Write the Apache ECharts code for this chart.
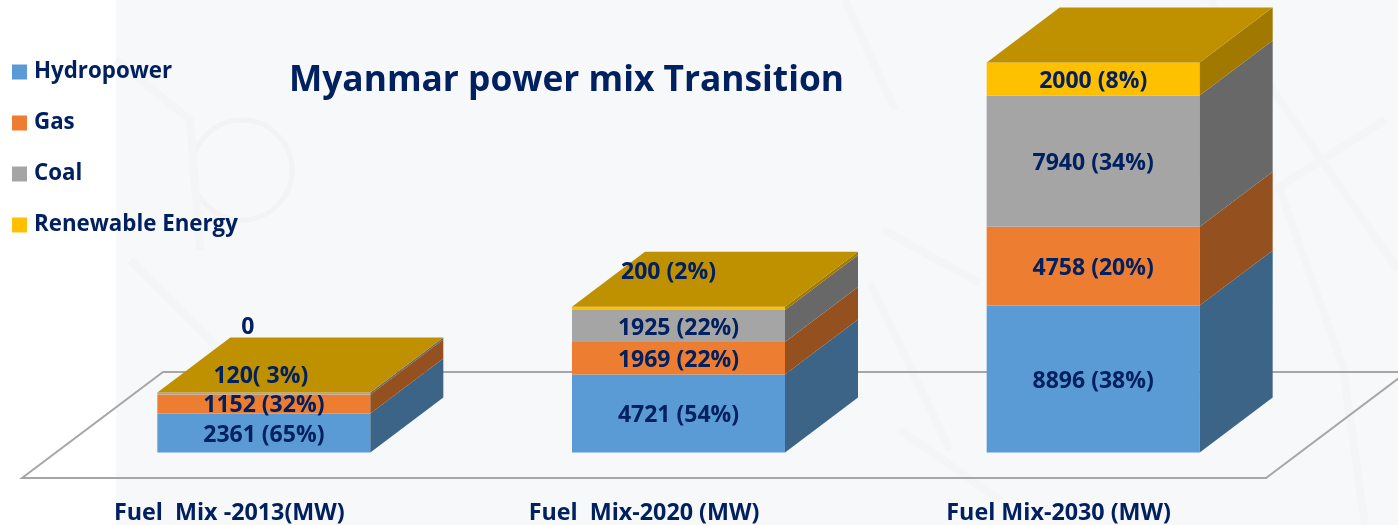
<!DOCTYPE html>
<html><head><meta charset="utf-8">
<style>html,body{margin:0;padding:0;background:#fff}#c{width:1398px;height:525px}</style>
<script src="https://cdn.jsdelivr.net/npm/echarts@6/dist/echarts.min.js"></script>
</head><body><div id="c"></div>
<script>
const categories = ['Fuel  Mix -2013(MW)', 'Fuel  Mix-2020 (MW)', 'Fuel Mix-2030 (MW)'];
const seriesNames = ['Hydropower', 'Gas', 'Coal', 'Renewable Energy'];
const hydropower = [2361, 4721, 8896];
const gas = [1152, 1969, 4758];
const coal = [120, 1925, 7940];
const renewable = [0, 200, 2000];
const hydropowerLabels = ['2361 (65%)', '4721 (54%)', '8896 (38%)'];
const gasLabels = ['1152 (32%)', '1969 (22%)', '4758 (20%)'];
const coalLabels = ['120( 3%)', '1925 (22%)', '7940 (34%)'];
const renewableLabels = ['0', '200 (2%)', '2000 (8%)'];

const stacks = [hydropower, gas, coal, renewable];
const allLabels = [hydropowerLabels, gasLabels, coalLabels, renewableLabels];
const frontColors = ['#5B9BD5', '#ED7D31', '#A5A5A5', '#FFC000'];
const sideColors = ['#3B6487', '#95501F', '#686868', '#A17900'];
const topColor = '#BF9000';
const navy = '#002060';
const FONT = '"Open Sans", Lato, sans-serif';

// 3D projection of the drawing: floor depth, bar depth, bar width
const FLOOR_DX = 141, FLOOR_DY = 106;
const BAR_DX = 73, BAR_DY = 55, BAR_W = 213;
const BASE_DX = FLOOR_DX / 2 - BAR_DX / 2 + 0.5, BASE_DY = FLOOR_DY / 2 - BAR_DY / 2;
// label nudges from the middle of the front face, [x, y] px per stack and category
const LABEL_DY = 2;
const labelNudge = { '2,0': [-3, -19], '3,0': [-16, -67], '3,1': [-10, -38] };

function stackBase(s, i) { let b = 0; for (let k = 0; k < s; k++) b += stacks[k][i]; return b; }

function barRender(s) {
  return function (params, api) {
    const i = api.value(0), lo = api.value(1), hi = api.value(2);
    const p0 = api.coord([i, lo]), p1 = api.coord([i, hi]);
    const xl = p0[0] + BASE_DX - BAR_W / 2, xr = xl + BAR_W;
    const yb = p0[1] - BASE_DY, yt = p1[1] - BASE_DY;
    const children = [];
    if (hi > lo) {
      children.push({ type: 'rect', shape: { x: xl, y: yt, width: BAR_W, height: yb - yt }, style: { fill: frontColors[s] } });
      children.push({ type: 'polygon', shape: { points: [[xr, yb], [xr + BAR_DX, yb - BAR_DY], [xr + BAR_DX, yt - BAR_DY], [xr, yt]] }, style: { fill: sideColors[s] } });
    }
    if (s === stacks.length - 1) {
      children.push({ type: 'polygon', shape: { points: [[xl, yt], [xl + BAR_DX, yt - BAR_DY], [xr + BAR_DX, yt - BAR_DY], [xr, yt]] }, style: { fill: topColor } });
    }
    return { type: 'group', children };
  };
}

const barSeries = seriesNames.map((name, s) => ({
  name, type: 'custom', coordinateSystem: 'cartesian2d', z: 3, silent: true, clip: false,
  itemStyle: { color: frontColors[s] },
  encode: { x: 0, y: [1, 2] },
  renderItem: barRender(s),
  data: categories.map((c, i) => [i, stackBase(s, i), stackBase(s, i) + stacks[s][i]])
}));

const labelData = [];
stacks.forEach((arr, s) => arr.forEach((v, i) => labelData.push([i, stackBase(s, i) + v / 2, s])));

const labelSeries = {
  type: 'custom', coordinateSystem: 'cartesian2d', z: 5, silent: true, clip: false,
  encode: { x: 0, y: 1 },
  renderItem(params, api) {
    const i = api.value(0), s = api.value(2);
    const p = api.coord([i, api.value(1)]);
    const n = labelNudge[s + ',' + i] || [0, 0];
    return { type: 'text', style: { text: allLabels[s][i], x: p[0] + BASE_DX + n[0], y: p[1] - BASE_DY + n[1] + LABEL_DY, align: 'center', verticalAlign: 'middle', fill: navy, font: '700 23px ' + FONT } };
  },
  data: labelData
};

const floorSeries = {
  type: 'custom', coordinateSystem: 'cartesian2d', z: 1, silent: true, clip: false,
  renderItem(params) {
    const r = params.coordSys, yb = r.y + r.height, xl = r.x, xr = r.x + r.width;
    return { type: 'polygon', shape: { points: [[xl, yb], [xl + FLOOR_DX, yb - FLOOR_DY], [xr + FLOOR_DX, yb - FLOOR_DY], [xr, yb]] }, style: { fill: 'rgba(0,0,0,0)', stroke: '#A6A6A6', lineWidth: 2 } };
  },
  encode: { x: 0, y: 1 },
  data: [[0, 0]]
};

const chart = echarts.init(document.getElementById('c'), null, { renderer: 'canvas' });
const wm = { stroke: '#F4F5F7', fill: 'none', lineWidth: 8 };
const wmLines = [
  [[845, 0], [895, 110]], [[883, 230], [980, 283]], [[870, 283], [950, 450]],
  [[1263, 197], [1385, 120]], [[1280, 190], [1343, 367], [1365, 525]], [[1210, 0], [1398, 270]],
  [[116, 60], [190, 120], [200, 250]], [[130, 260], [210, 340], [250, 400]], [[900, 430], [1000, 500]]
];
chart.setOption({
  animation: false,
  backgroundColor: '#fff',
  title: { text: 'Myanmar power mix Transition', left: 289, top: 63, padding: 0, textStyle: { color: navy, fontFamily: FONT, fontWeight: 700, fontSize: 35.3 } },
  legend: {
    orient: 'vertical', left: 12, top: 61, itemWidth: 15, itemHeight: 15, itemGap: 29, icon: 'rect', selectedMode: false, padding: 0,
    data: seriesNames,
    textStyle: { color: navy, fontFamily: FONT, fontWeight: 700, fontSize: 22.3, lineHeight: 15, padding: [3, 0, 0, 2] }
  },
  graphic: [
    { type: 'rect', z: -10, silent: true, shape: { x: 116, y: 0, width: 1282, height: 525 }, style: { fill: '#F7F8FA' } },
    { type: 'circle', z: -9, silent: true, shape: { cx: 242, cy: 170, r: 50 }, style: { stroke: '#F3F3F5', fill: 'none', lineWidth: 5 } },
    ...wmLines.map(points => ({ type: 'polyline', z: -9, silent: true, shape: { points }, style: wm }))
  ],
  grid: { left: 22, right: 132, top: 15.16, bottom: 47, outerBoundsMode: 'none' },
  xAxis: {
    type: 'category', data: categories,
    axisLine: { show: false }, axisTick: { show: false }, splitLine: { show: false },
    axisLabel: { color: navy, fontFamily: FONT, fontWeight: 700, fontSize: 23.3, margin: 24, interval: 0 }
  },
  yAxis: { type: 'value', min: 0, max: 28000, show: false, splitLine: { show: false } },
  series: [floorSeries, ...barSeries, labelSeries]
});
</script></body></html>
